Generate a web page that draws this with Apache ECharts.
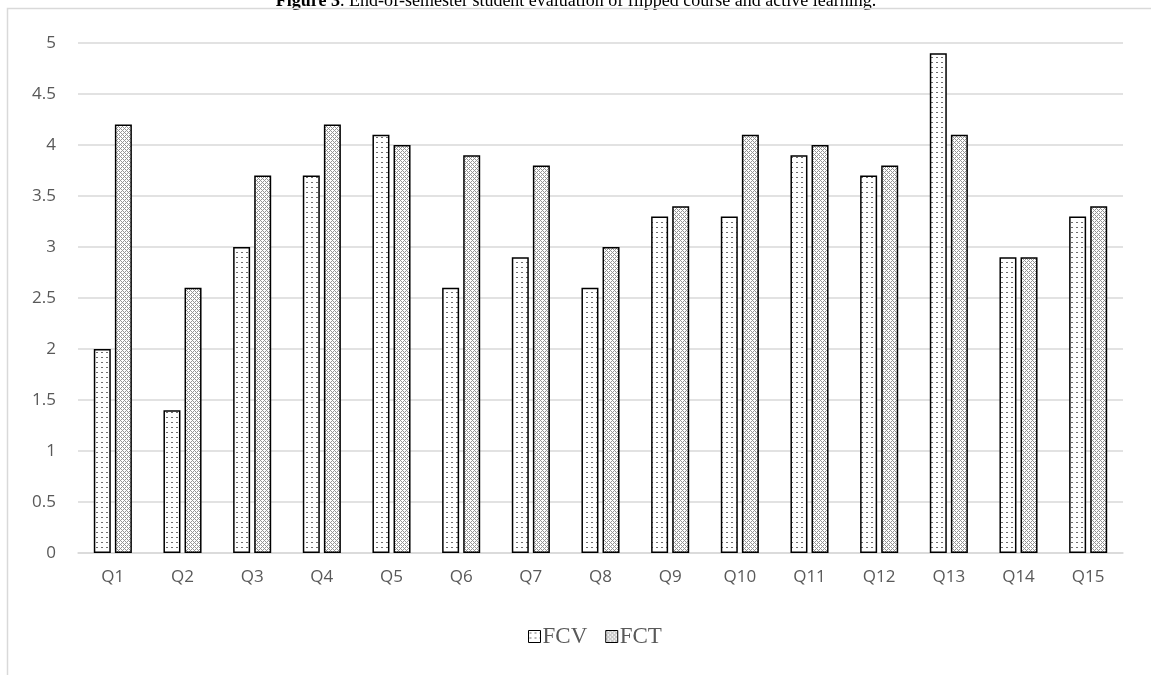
<!DOCTYPE html>
<html>
<head>
<meta charset="utf-8">
<title>Student evaluation</title>
<script src="https://cdn.jsdelivr.net/npm/echarts@6/dist/echarts.min.js"></script>
<style>
  html, body { margin: 0; padding: 0; background: #fff; }
  #chart { width: 1151px; height: 675px; }
</style>
</head>
<body>
<div id="chart"></div>
<script>
// Survey questions and mean scores for the two course formats
const categories = ['Q1','Q2','Q3','Q4','Q5','Q6','Q7','Q8','Q9','Q10','Q11','Q12','Q13','Q14','Q15'];
const fcvValues = [2.0, 1.4, 3.0, 3.7, 4.1, 2.6, 2.9, 2.6, 3.3, 3.3, 3.9, 3.7, 4.9, 2.9, 3.3];
const fctValues = [4.2, 2.6, 3.7, 4.2, 4.0, 3.9, 3.8, 3.0, 3.4, 4.1, 4.0, 3.8, 4.1, 2.9, 3.4];
const seriesNames = ['FCV', 'FCT'];

// Small fill tiles: sparse dashes for FCV, diagonal crosshatch for FCT
function makeTile(size, paint) {
  const c = document.createElement('canvas');
  c.width = size; c.height = size;
  const ctx = c.getContext('2d');
  ctx.fillStyle = '#ffffff';
  ctx.fillRect(0, 0, size, size);
  paint(ctx);
  return c;
}
const dotTile = makeTile(5, ctx => {
  ctx.fillStyle = '#6e6e6e';
  ctx.fillRect(1, 2, 2, 1);
});
const hatchTile = makeTile(4, ctx => {
  ctx.fillStyle = '#959595';
  for (let x = 0; x < 4; x++) {
    for (let y = 0; y < 4; y++) {
      if ((x + y) % 4 === 0 || ((x - y) % 4 + 4) % 4 === 0) ctx.fillRect(x, y, 1, 1);
    }
  }
});

const chart = echarts.init(document.getElementById('chart'), null, { renderer: 'canvas' });

const barStyle = (tile) => ({
  color: { image: tile, repeat: 'repeat' },
  borderColor: '#000000',
  borderWidth: 1.5
});

chart.setOption({
  animation: false,
  backgroundColor: '#ffffff',
  graphic: [
    {
      type: 'text',
      x: 576,
      y: 10,
      z: 1,
      style: {
        text: '{b|Figure 3}{n|. End-of-semester student evaluation of flipped course and active learning.}',
        align: 'center',
        verticalAlign: 'bottom',
        rich: {
          b: { fontFamily: 'Liberation Serif', fontSize: 18, fontWeight: 'bold', fill: '#000' },
          n: { fontFamily: 'Liberation Serif', fontSize: 18, fill: '#000' }
        }
      }
    },
    {
      type: 'rect',
      z: 2,
      shape: { x: 7.5, y: 8.5, width: 1300, height: 800 },
      style: { fill: null, stroke: '#d9d9d9', lineWidth: 1.5 }
    }
  ],
  grid: { left: 78, right: 28, top: 43, bottom: 122, containLabel: false },
  legend: {
    data: seriesNames,
    icon: 'rect',
    left: 523,
    top: 620,
    itemWidth: 12,
    itemHeight: 12,
    itemGap: 18,
    itemStyle: { borderWidth: 1 },
    textStyle: { fontFamily: 'Liberation Serif', fontSize: 23, color: '#595959', padding: [0, 0, 0, -3] }
  },
  xAxis: {
    type: 'category',
    data: categories,
    axisTick: { show: false },
    axisLine: { lineStyle: { color: '#d9d9d9', width: 1.5 } },
    axisLabel: { color: '#595959', fontFamily: 'Open Sans', fontSize: 17, margin: 16 }
  },
  yAxis: {
    type: 'value',
    min: 0,
    max: 5,
    interval: 0.5,
    axisLine: { show: false },
    axisTick: { show: false },
    splitLine: { lineStyle: { color: '#d9d9d9', width: 1.5 } },
    axisLabel: { color: '#595959', fontFamily: 'Open Sans', fontSize: 17, margin: 22 }
  },
  series: [
    {
      name: seriesNames[0],
      type: 'bar',
      data: fcvValues,
      barWidth: 17,
      barGap: '24%',
      itemStyle: barStyle(dotTile)
    },
    {
      name: seriesNames[1],
      type: 'bar',
      data: fctValues,
      barWidth: 17,
      itemStyle: barStyle(hatchTile)
    }
  ]
});
</script>
</body>
</html>
